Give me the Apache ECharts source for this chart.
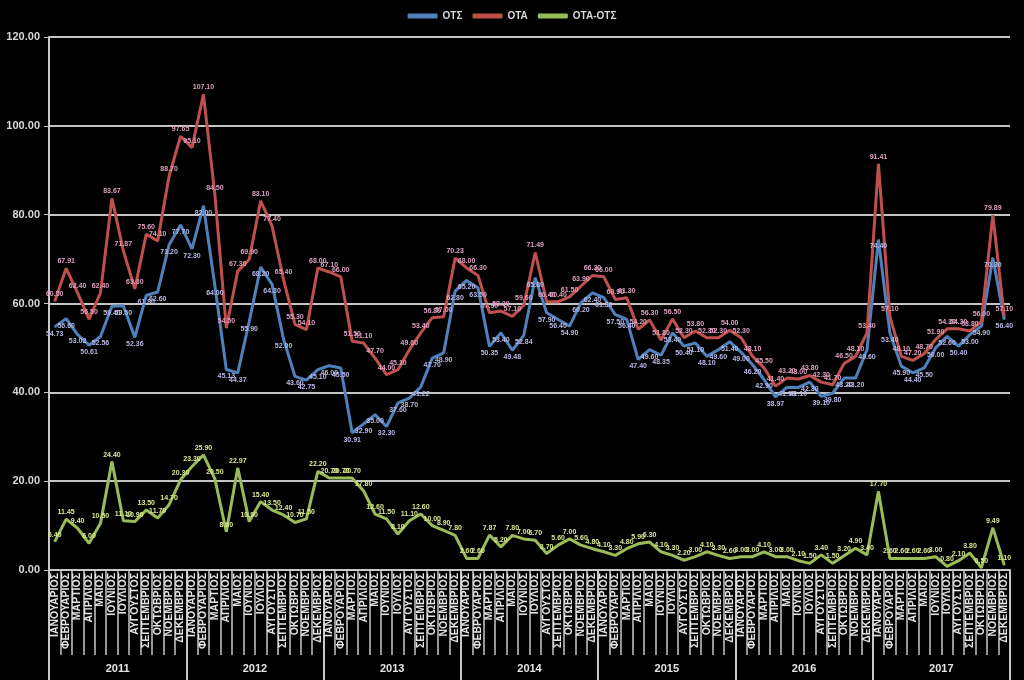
<!DOCTYPE html>
<html>
<head>
<meta charset="utf-8">
<script src="https://cdn.jsdelivr.net/npm/echarts@6/dist/echarts.min.js"></script>
<style>
html,body{margin:0;padding:0;background:#000;}
#chart{width:1024px;height:680px;}
</style>
</head>
<body>
<div id="chart"></div>
<script>
const monthNames = ['ΙΑΝΟΥΑΡΙΟΣ','ΦΕΒΡΟΥΑΡΙΟΣ','ΜΑΡΤΙΟΣ','ΑΠΡΙΛΙΟΣ','ΜΑΙΟΣ','ΙΟΥΝΙΟΣ','ΙΟΥΛΙΟΣ','ΑΥΓΟΥΣΤΟΣ','ΣΕΠΤΕΜΒΡΙΟΣ','ΟΚΤΩΒΡΙΟΣ','ΝΟΕΜΒΡΙΟΣ','ΔΕΚΕΜΒΡΙΟΣ'];
const years = ['2011','2012','2013','2014','2015','2016','2017'];
const seriesNames = ['ΟΤΣ','ΟΤΑ','ΟΤΑ-ΟΤΣ'];
const yTicks = [0,20,40,60,80,100,120];

const otsValues = [
54.73,56.60,53.02,50.61,52.56,59.40,59.50,52.36,61.80,62.60,73.20,77.70,
72.30,82.00,64.00,45.13,44.37,55.90,68.20,64.30,52.00,43.60,42.75,45.10,
46.00,45.50,30.91,32.90,35.00,32.30,37.60,38.70,41.22,47.70,48.90,62.80,
65.20,63.50,50.35,53.40,49.48,52.84,65.80,57.90,56.40,54.90,60.20,62.40,
61.30,57.50,56.40,47.40,49.60,48.35,53.40,50.40,51.10,48.10,49.60,51.40,
49.00,46.20,42.90,38.97,41.10,41.10,42.30,39.10,39.80,43.20,43.20,49.60,
74.40,53.40,45.90,44.40,45.50,50.00,52.60,50.40,53.00,54.90,70.30,56.40
];
const otaValues = [
60.50,67.91,62.40,56.50,62.40,83.67,71.87,63.30,75.60,74.10,88.70,97.65,
95.10,107.10,84.50,54.50,67.30,69.90,83.10,77.40,65.40,55.30,54.10,68.00,
67.10,66.00,51.50,51.10,47.70,44.00,45.10,49.60,53.40,56.80,57.00,70.23,
68.00,66.30,57.90,58.30,57.10,59.60,71.49,60.40,60.40,61.50,63.90,66.30,
66.00,60.90,61.30,54.20,56.30,51.80,56.50,52.30,53.80,52.30,52.30,54.00,
52.30,48.10,45.50,41.40,43.20,43.00,43.80,42.30,41.70,46.50,48.10,53.40,
91.41,57.10,48.10,47.20,48.70,51.90,54.30,54.30,53.80,56.00,79.89,57.10
];
const diffValues = [
6.40,11.45,9.40,6.00,10.50,24.40,11.10,10.90,13.50,11.70,14.70,20.30,
23.30,25.90,20.50,8.60,22.97,10.90,15.40,13.50,12.40,10.70,11.50,22.20,
20.70,20.70,20.70,17.80,12.60,11.50,8.10,11.10,12.60,10.00,8.90,7.80,
2.60,2.60,7.87,5.20,7.80,7.00,6.70,3.70,5.60,7.00,5.60,4.80,
4.10,3.30,4.80,5.90,6.30,4.10,3.30,2.20,3.00,4.10,3.30,2.60,
3.00,3.00,4.10,3.00,3.00,2.10,1.50,3.40,1.50,3.20,4.90,3.40,
17.70,2.60,2.60,2.60,2.60,3.00,0.80,2.10,3.80,0.50,9.49,1.10
];

const categories = [];
years.forEach(y => monthNames.forEach(m => categories.push(m)));

const chart = echarts.init(document.getElementById('chart'));
const fontFam = '"Liberation Sans", Arial, sans-serif';
function lbl(color, pos) {
  return {show:true, position:pos, fontSize:7, fontWeight:'bold', color:color,
    fontFamily:fontFam, distance:3, formatter: p => Number(p.value).toFixed(2)};
}
chart.setOption({
  backgroundColor:'#000',
  animation:false,
  legend:{
    top:6, left:'center', itemWidth:30, itemHeight:5, itemGap:10, icon:'roundRect',
    textStyle:{color:'#d8d8d8', fontSize:10, fontWeight:'bold', fontFamily:fontFam},
    data:seriesNames
  },
  grid:{left:49, right:14, top:37, bottom:110},
  xAxis:[{
    type:'category', data:categories, boundaryGap:true, position:'bottom',
    axisLine:{show:true, lineStyle:{color:'#c8c8c8', width:2}},
    axisTick:{show:true, interval:0, length:85, lineStyle:{color:'#c8c8c8', width:1.5}},
    axisLabel:{interval:0, rotate:90, fontSize:10.5, fontWeight:'bold', color:'#e4e4e4',
      fontFamily:fontFam, margin:3}
  },{
    type:'category', data:years, boundaryGap:true, position:'bottom',
    axisLine:{show:false},
    axisTick:{show:true, interval:0, length:110, lineStyle:{color:'#c8c8c8', width:2}},
    axisLabel:{interval:0, fontSize:11, fontWeight:'bold', color:'#e4e4e4',
      fontFamily:fontFam, margin:93}
  }],
  yAxis:{
    type:'value', min:0, max:120, interval:20,
    axisLine:{show:true, lineStyle:{color:'#c8c8c8', width:2}},
    axisTick:{show:true, length:5, lineStyle:{color:'#c8c8c8'}},
    splitLine:{lineStyle:{color:'#c4c4c4', width:2}},
    axisLabel:{fontSize:11, fontWeight:'bold', color:'#d8d8d8', fontFamily:fontFam, margin:9,
      formatter: v => v.toFixed(2)}
  },
  series:[{
    name:seriesNames[0], type:'line', data:otsValues, xAxisIndex:0,
    symbol:'circle', symbolSize:1, showSymbol:true,
    lineStyle:{color:'#4f81bd', width:3}, itemStyle:{color:'#4f81bd'},
    label:lbl('#b9b9e6','bottom')
  },{
    name:seriesNames[1], type:'line', data:otaValues, xAxisIndex:0,
    symbol:'circle', symbolSize:1, showSymbol:true,
    lineStyle:{color:'#c0504d', width:3}, itemStyle:{color:'#c0504d'},
    label:lbl('#dca0c0','top')
  },{
    name:seriesNames[2], type:'line', data:diffValues, xAxisIndex:0,
    symbol:'circle', symbolSize:1, showSymbol:true,
    lineStyle:{color:'#9bbb59', width:3}, itemStyle:{color:'#9bbb59'},
    label:lbl('#d8e890','top')
  }]
});
</script>
</body>
</html>
